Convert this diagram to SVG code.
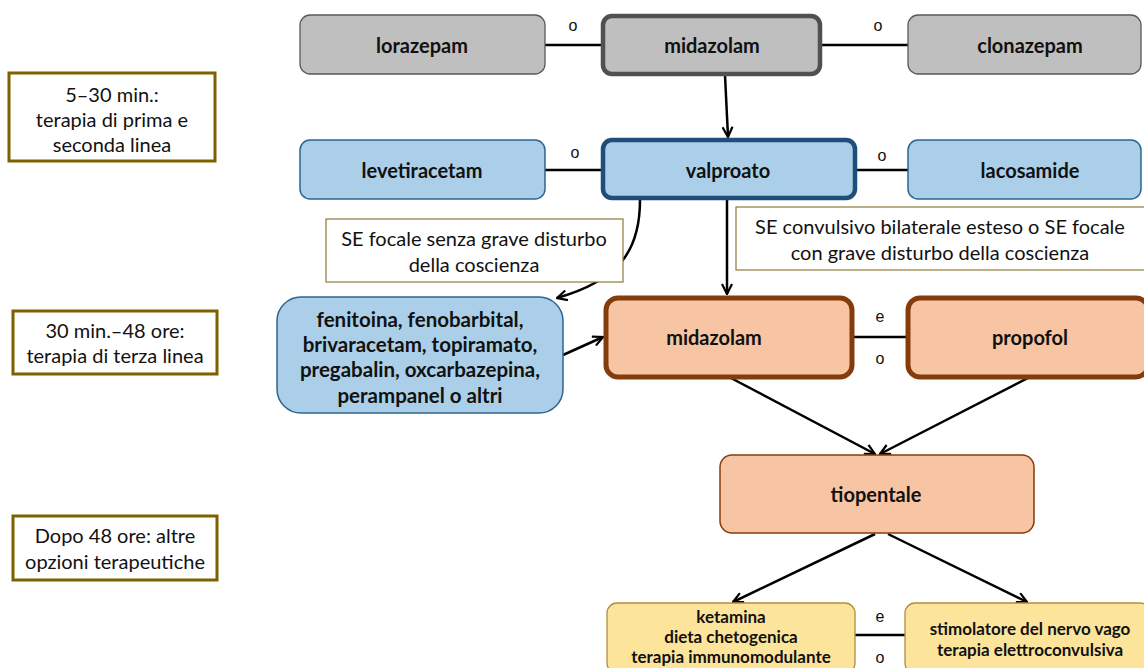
<svg xmlns="http://www.w3.org/2000/svg" width="1144" height="668" viewBox="0 0 1144 668">
<defs>
<marker id="arr" viewBox="0 0 12 12" refX="11" refY="6" markerWidth="12" markerHeight="12" markerUnits="userSpaceOnUse" orient="auto">
<path d="M1,1 L11,6 L1,11" fill="none" stroke="#000" stroke-width="2.2"/>
</marker>
<style>
.t{font-family:Lato,"Open Sans",sans-serif;font-weight:bold;font-size:20px;fill:#111;text-anchor:middle;dominant-baseline:central}
.f{font-size:20.5px}
.y{font-size:17px}
.r{font-family:Lato,"Open Sans",sans-serif;font-size:20px;fill:#111;text-anchor:middle;dominant-baseline:central}
.s{font-family:"Liberation Sans",Arial,sans-serif;font-size:16px;fill:#111;text-anchor:middle;dominant-baseline:central}
.gray{fill:#bfbfbf;stroke:#595959;stroke-width:1.3}
.grayT{fill:#bfbfbf;stroke:#505050;stroke-width:4.5}
.blue{fill:#abcfe8;stroke:#2e6590;stroke-width:1.5}
.blueT{fill:#abcfe8;stroke:#1f4e79;stroke-width:4.5}
.org{fill:#f7c5a3;stroke:#843c0c;stroke-width:5}
.orgL{fill:#f7c5a3;stroke:#843c0c;stroke-width:1.5}
.yel{fill:#fde49b;stroke:#b08d3e;stroke-width:1.3}
.time{fill:#fff;stroke:#7f6000;stroke-width:3}
.lab{fill:#fff;stroke:#8c7a3a;stroke-width:1.2}
.c{stroke:#000;stroke-width:2.5;fill:none}
.ca{stroke:#000;stroke-width:2.5;fill:none;marker-end:url(#arr)}
</style>
</defs>

<g id="connectors">
<line class="c" x1="545" y1="45" x2="603" y2="45"/>
<line class="c" x1="820" y1="45" x2="908" y2="45"/>
<line class="ca" x1="725" y1="75" x2="728" y2="137"/>
<line class="c" x1="545" y1="170" x2="603" y2="170"/>
<line class="c" x1="855" y1="170" x2="908" y2="170"/>
<path class="ca" d="M640,200 C640,250 620,280 557,298"/>
<line class="ca" x1="727" y1="200" x2="727" y2="294"/>
<line class="ca" x1="563" y1="355" x2="603" y2="337"/>
<line class="c" x1="852" y1="337" x2="908" y2="337"/>
<line class="ca" x1="729" y1="377" x2="875" y2="454"/>
<line class="ca" x1="1030" y1="377" x2="880" y2="454"/>
<line class="ca" x1="875" y1="534" x2="733" y2="602"/>
<line class="ca" x1="888" y1="534" x2="1027" y2="602"/>
<line class="c" x1="855" y1="635" x2="905" y2="635"/>
<text class="s" x="573" y="25">o</text>
<text class="s" x="878" y="25">o</text>
<text class="s" x="575" y="152">o</text>
<text class="s" x="882" y="155">o</text>
<text class="s" x="880" y="316">e</text>
<text class="s" x="880" y="358">o</text>
<text class="s" x="880" y="616">e</text>
<text class="s" x="880" y="657">o</text>
</g>

<g id="time1"><rect class="time" x="9" y="73" width="206" height="88"/>
<text class="r" x="112" y="94">5–30 min.:</text><text class="r" x="112" y="119">terapia di prima e</text><text class="r" x="112" y="144">seconda linea</text></g>
<g id="time2"><rect class="time" x="13" y="311" width="204" height="63"/>
<text class="r" x="115" y="330">30 min.–48 ore:</text><text class="r" x="115" y="355">terapia di terza linea</text></g>
<g id="time3"><rect class="time" x="13" y="516" width="204" height="64"/>
<text class="r" x="115" y="535">Dopo 48 ore: altre</text><text class="r" x="115" y="561">opzioni terapeutiche</text></g>

<g id="lorazepam"><rect class="gray" x="300" y="15" width="245" height="59" rx="10"/><text class="t" x="422" y="45">lorazepam</text></g>
<g id="midazolam1"><rect class="grayT" x="603" y="16" width="217" height="58" rx="9"/><text class="t" x="712" y="45">midazolam</text></g>
<g id="clonazepam"><rect class="gray" x="908" y="15" width="233" height="59" rx="10"/><text class="t" x="1030" y="45">clonazepam</text></g>

<g id="levetiracetam"><rect class="blue" x="300" y="140" width="245" height="59" rx="10"/><text class="t" x="422" y="170">levetiracetam</text></g>
<g id="valproato"><rect class="blueT" x="603" y="140" width="252" height="58" rx="9"/><text class="t" x="728" y="170">valproato</text></g>
<g id="lacosamide"><rect class="blue" x="908" y="140" width="233" height="59" rx="10"/><text class="t" x="1030" y="170">lacosamide</text></g>

<g id="label1"><rect class="lab" x="326" y="219" width="297" height="63"/>
<text class="r" x="474" y="238">SE focale senza grave disturbo</text><text class="r" x="474" y="264">della coscienza</text></g>
<g id="label2"><rect class="lab" x="736" y="207" width="410" height="63"/>
<text class="r" x="940" y="226">SE convulsivo bilaterale esteso o SE focale</text><text class="r" x="940" y="252">con grave disturbo della coscienza</text></g>

<g id="fenitoina"><rect class="blue" x="277" y="297" width="286" height="116" rx="24"/>
<text class="t f" x="420" y="319">fenitoina, fenobarbital,</text>
<text class="t f" x="420" y="344">brivaracetam, topiramato,</text>
<text class="t f" x="420" y="369">pregabalin, oxcarbazepina,</text>
<text class="t f" x="420" y="395">perampanel o altri</text></g>

<g id="midazolam2"><rect class="org" x="606" y="298" width="246" height="79" rx="12"/><text class="t" x="714" y="337">midazolam</text></g>
<g id="propofol"><rect class="org" x="908" y="298" width="240" height="79" rx="12"/><text class="t" x="1030" y="337">propofol</text></g>

<g id="tiopentale"><rect class="orgL" x="720" y="455" width="314" height="78" rx="12"/><text class="t" x="876" y="494">tiopentale</text></g>

<g id="ketamina"><rect class="yel" x="607" y="603" width="248" height="70" rx="10"/>
<text class="t y" x="731" y="616">ketamina</text>
<text class="t y" x="731" y="636">dieta chetogenica</text>
<text class="t y" x="731" y="656">terapia immunomodulante</text></g>
<g id="stimolatore"><rect class="yel" x="905" y="603" width="245" height="70" rx="10"/>
<text class="t y" x="1030" y="628">stimolatore del nervo vago</text>
<text class="t y" x="1030" y="649">terapia elettroconvulsiva</text></g>
</svg>
